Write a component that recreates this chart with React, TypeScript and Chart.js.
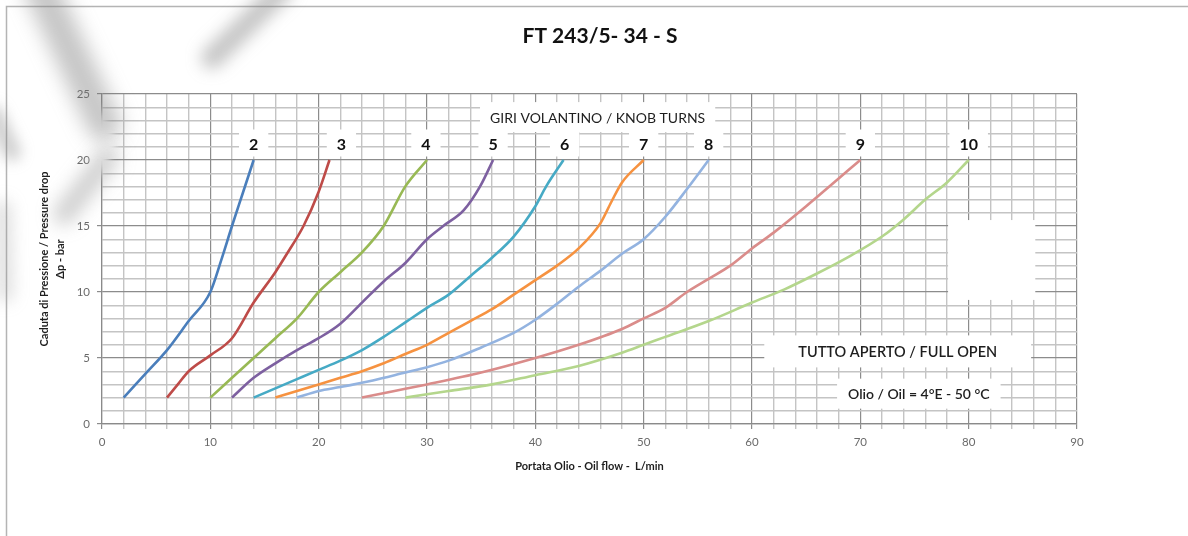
import React, { useEffect, useRef } from 'react';
import { Chart, registerables } from 'chart.js';

Chart.register(...registerables);

// ---------- data ----------
const chartTitle = 'FT 243/5- 34 - S';
const yTitle = ['Caduta di Pressione / Pressure drop', 'Δp - bar'];
const xTitle = 'Portata Olio - Oil flow -  L/min';

const turns = ['2', '3', '4', '5', '6', '7', '8', '9', '10'];

const flow2 = [2, 4, 6, 8, 10, 11, 12, 13, 14];
const drop2 = [2, 3.8, 5.6, 7.8, 10, 12.4, 15, 17.5, 20];
const flow3 = [6, 7, 8, 10, 12, 14, 16, 17, 18.6, 20, 21];
const drop3 = [2, 3, 4, 5.2, 6.5, 9.2, 11.5, 12.8, 15, 17.6, 20];
const flow4 = [10, 12, 14, 16, 18, 20, 22, 24, 26, 28, 30];
const drop4 = [2, 3.5, 5, 6.5, 8, 10, 11.5, 13, 15, 18, 20];
const flow5 = [12, 14, 16, 18, 20, 22, 24, 26, 28, 30, 31.5, 33.4, 34.9, 36.1];
const drop5 = [2, 3.5, 4.6, 5.6, 6.5, 7.6, 9.2, 10.8, 12.2, 14, 15, 16.2, 18, 20];
const flow6 = [14, 16, 18, 20, 22, 24, 26, 28, 30, 32, 34, 36, 38, 40, 41, 42.6];
const drop6 = [2, 2.7, 3.4, 4.1, 4.8, 5.6, 6.6, 7.7, 8.8, 9.8, 11.2, 12.6, 14.2, 16.5, 18, 20];
const flow7 = [16, 18, 20, 22, 24, 26, 28, 30, 32, 34, 36, 38, 40, 42, 44, 46, 47, 48, 50];
const drop7 = [2, 2.5, 3, 3.5, 4, 4.6, 5.3, 6, 6.9, 7.8, 8.7, 9.8, 10.9, 12, 13.3, 15.2, 16.8, 18.3, 20];
const flow8 = [18, 20, 22, 25, 28, 30, 32, 35, 38, 40, 42, 44, 46, 48, 50, 52, 54, 56];
const drop8 = [2, 2.5, 2.8, 3.3, 3.9, 4.3, 4.8, 5.8, 6.9, 7.9, 9.1, 10.4, 11.6, 12.9, 14, 15.7, 17.8, 20];
const flow9 = [24, 27, 30, 35, 40, 44, 48, 50, 52, 54, 56, 58, 60, 62, 65, 68, 70];
const drop9 = [2, 2.5, 3, 3.9, 5, 6, 7.2, 8, 8.8, 10, 11, 12, 13.3, 14.5, 16.5, 18.6, 20];
const flow10 = [28, 32, 36, 40, 44, 48, 50, 52, 56, 60, 63, 66, 69, 72, 74, 76, 78, 80];
const drop10 = [2, 2.5, 3, 3.7, 4.4, 5.4, 6, 6.6, 7.8, 9.2, 10.2, 11.4, 12.7, 14.2, 15.5, 17, 18.3, 20];

const flows = [flow2, flow3, flow4, flow5, flow6, flow7, flow8, flow9, flow10];
const drops = [drop2, drop3, drop4, drop5, drop6, drop7, drop8, drop9, drop10];

const lineColors = ['#4A7EBB', '#BE4B48', '#98B954', '#7D60A0', '#46AAC5', '#F69240', '#93B3E0', '#DA8C8A', '#B4D68C'];

// where each "turns" number is written (flow value, pressure value)
const labelFlow = [14, 22.1, 29.9, 36.1, 42.7, 50, 56, 70, 80];
const labelDrop = 21.25;

const xTickLabels = [0, 10, 20, 30, 40, 50, 60, 70, 80, 90];
const yTickLabels = [0, 5, 10, 15, 20, 25];

const noteTexts = ['GIRI VOLANTINO / KNOB TURNS', 'TUTTO APERTO / FULL OPEN', 'Olio / Oil = 4°E - 50 °C'];
const noteFlow = [45.75, 73.45, 75.4];
const noteDrop = [23.25, 5.5, 2.3];

const FONT = 'Lato, "Open Sans", "DejaVu Sans", sans-serif';

function softLine(ctx: CanvasRenderingContext2D, pts: number[][], width: number, color: string, blur: number) {
  ctx.save();
  ctx.filter = `blur(${blur}px)`;
  ctx.strokeStyle = color;
  ctx.lineWidth = width;
  ctx.lineCap = 'round';
  ctx.lineJoin = 'round';
  ctx.beginPath();
  pts.forEach((p, i) => (i === 0 ? ctx.moveTo(p[0], p[1]) : ctx.lineTo(p[0], p[1])));
  ctx.stroke();
  ctx.restore();
}

const decorPlugin = {
  id: 'decor',
  beforeDraw(chart: any) {
    const { ctx, width, height } = chart;
    ctx.save();
    ctx.fillStyle = '#ffffff';
    ctx.fillRect(0, 0, width, height);
    // outer frame
    ctx.strokeStyle = '#b4b4b4';
    ctx.lineWidth = 1.5;
    ctx.beginPath();
    ctx.moveTo(6.5, height + 2);
    ctx.lineTo(6.5, 6.5);
    ctx.lineTo(width + 2, 6.5);
    ctx.stroke();
    ctx.restore();
  },
  afterDatasetsDraw(chart: any) {
    const { ctx } = chart;
    const xs = chart.scales.x;
    const ys = chart.scales.y;
    ctx.save();
    ctx.textAlign = 'center';
    ctx.textBaseline = 'middle';

    // blank white patch
    const bx0 = xs.getPixelForValue(78.1), bx1 = xs.getPixelForValue(86.15);
    const by0 = ys.getPixelForValue(15.45), by1 = ys.getPixelForValue(9.4);
    ctx.fillStyle = '#ffffff';
    ctx.fillRect(bx0, by0, bx1 - bx0, by1 - by0);

    // notes
    const noteFonts = [`400 14px ${FONT}`, `600 14.5px ${FONT}`, `600 14px ${FONT}`];
    const notePadX = [10, 34, 11];
    const noteH = [30, 32, 30];
    noteTexts.forEach((t, i) => {
      ctx.font = noteFonts[i];
      const w = ctx.measureText(t).width + notePadX[i] * 2;
      const cx = xs.getPixelForValue(noteFlow[i]);
      const cy = ys.getPixelForValue(noteDrop[i]);
      ctx.fillStyle = '#ffffff';
      ctx.fillRect(cx - w / 2, cy - noteH[i] / 2, w, noteH[i]);
      ctx.fillStyle = '#1e1e1e';
      ctx.fillText(t, cx, cy + 1);
    });

    // turn labels
    ctx.font = `700 16px ${FONT}`;
    turns.forEach((t, i) => {
      const cx = xs.getPixelForValue(labelFlow[i]);
      const cy = ys.getPixelForValue(labelDrop);
      const w = ctx.measureText(t).width + 20;
      ctx.fillStyle = '#ffffff';
      ctx.fillRect(cx - w / 2, cy - 14, w, 27);
      ctx.fillStyle = '#111111';
      ctx.fillText(t, cx, cy + 1);
    });

    ctx.restore();
  },
  afterDraw(chart: any) {
    const { ctx } = chart;
    ctx.save();
    ctx.fillStyle = '#111111';
    ctx.font = `700 21px ${FONT}`;
    ctx.textAlign = 'center';
    ctx.textBaseline = 'middle';
    ctx.fillText(chartTitle, 600, 36);
    ctx.restore();

    // soft grey streaks present in the scanned original
    ctx.save();
    ctx.filter = 'blur(3px)';
    ctx.fillStyle = '#ffffff';
    ctx.beginPath();
    ctx.moveTo(92, 95);
    ctx.lineTo(118, 143);
    ctx.lineTo(92, 190);
    ctx.closePath();
    ctx.fill();
    ctx.restore();
    softLine(ctx, [[40, -14], [104, 124]], 34, 'rgba(120,120,120,0.42)', 10);
    softLine(ctx, [[108, 158], [64, 214]], 22, 'rgba(125,125,125,0.36)', 9);
    softLine(ctx, [[212, 58], [282, -10]], 22, 'rgba(120,120,120,0.42)', 8);
    softLine(ctx, [[-6, 114], [12, 152]], 18, 'rgba(130,130,130,0.38)', 7);
    softLine(ctx, [[3, 208], [5, 294]], 16, 'rgba(145,145,145,0.3)', 8);
  },
};

export default function App() {
  const ref = useRef<HTMLCanvasElement | null>(null);

  useEffect(() => {
    if (!ref.current) return;
    const datasets = turns.map((t, i) => ({
      label: t,
      data: flows[i].map((f, j) => ({ x: f, y: drops[i][j] })),
      borderColor: lineColors[i],
      backgroundColor: lineColors[i],
      borderWidth: 2.6,
      pointRadius: 0,
      fill: false,
      cubicInterpolationMode: 'monotone' as const,
    }));

    const minorColor = '#c4c4c4';
    const majorColor = '#8c8c8c';

    const chart = new Chart(ref.current, {
      type: 'line',
      data: { datasets },
      plugins: [decorPlugin],
      options: {
        animation: false,
        responsive: false,
        devicePixelRatio: 1,
        layout: { padding: { left: 22, right: 111, top: 94, bottom: 56 } },
        plugins: {
          legend: { display: false },
          tooltip: { enabled: false },
          title: { display: false },
        },
        scales: {
          x: {
            type: 'linear',
            min: 0,
            max: 90,
            afterFit: (s: any) => { s.height = 56; },
            border: { color: '#8a8a8a', width: 1.2 },
            grid: {
              color: (c: any) => (c.tick && c.tick.value % 10 === 0 ? majorColor : minorColor),
              lineWidth: (c: any) => (c.tick && c.tick.value % 10 === 0 ? 1.2 : 1.4),
              tickColor: (c: any) => (c.tick && c.tick.value % 10 === 0 ? majorColor : minorColor),
              tickLength: 5,
            },
            ticks: {
              stepSize: 2,
              autoSkip: false,
              maxRotation: 0,
              padding: 6,
              color: '#6a6a6a',
              font: { family: FONT, size: 11.5 },
              callback: (v: any) => (xTickLabels.includes(Number(v)) ? String(v) : ''),
            },
            title: {
              display: true,
              text: xTitle,
              color: '#1e1e1e',
              font: { family: FONT, size: 11, weight: 'bold', lineHeight: '13px' },
              padding: { top: 0, bottom: 7.5 },
            },
          },
          y: {
            type: 'linear',
            min: 0,
            max: 25,
            afterFit: (s: any) => { s.width = 80; },
            border: { color: '#8a8a8a', width: 1.2 },
            grid: {
              color: (c: any) => (c.tick && c.tick.value % 5 === 0 ? majorColor : minorColor),
              lineWidth: (c: any) => (c.tick && c.tick.value % 5 === 0 ? 1.2 : 1.4),
              tickColor: (c: any) => (c.tick && c.tick.value % 5 === 0 ? majorColor : 'rgba(0,0,0,0)'),
              tickLength: 5,
            },
            ticks: {
              stepSize: 1,
              autoSkip: false,
              padding: 7,
              color: '#6a6a6a',
              font: { family: FONT, size: 11.5 },
              callback: (v: any) => (yTickLabels.includes(Number(v)) ? String(v) : ''),
            },
            title: {
              display: true,
              text: yTitle,
              color: '#1e1e1e',
              font: { family: FONT, size: 11, weight: 'bold', lineHeight: '16px' },
              padding: { top: 14, bottom: 0 },
            },
          },
        },
      },
    });
    return () => chart.destroy();
  }, []);

  return (
    <div style={{ position: 'fixed', left: 0, top: 0, width: 1188, height: 536, background: '#fff' }}>
      <canvas ref={ref} width={1188} height={536} style={{ display: 'block', width: 1188, height: 536 }} />
    </div>
  );
}
